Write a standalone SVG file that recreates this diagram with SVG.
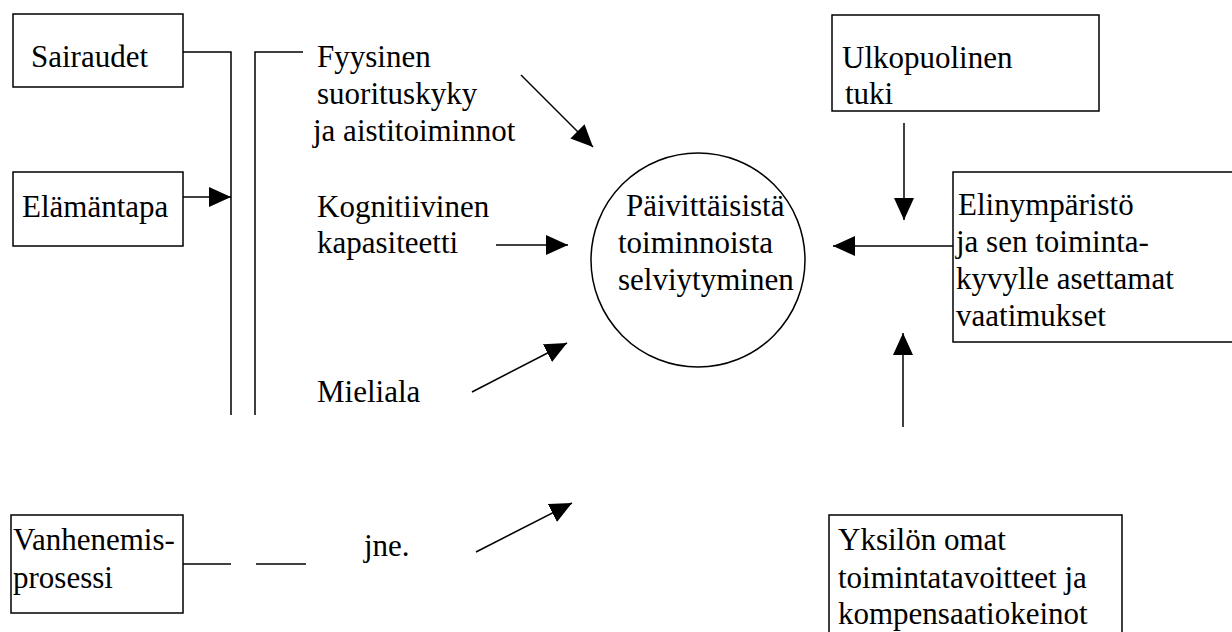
<svg xmlns="http://www.w3.org/2000/svg" width="1232" height="632" viewBox="0 0 1232 632">
<style>
text{font-family:'Liberation Serif','Times New Roman',serif;font-size:31px;fill:#000}
.box{fill:#fff;stroke:#000;stroke-width:1.5}
.ln{fill:none;stroke:#000;stroke-width:1.5}
.ar{fill:none;stroke:#000;stroke-width:1.5;marker-end:url(#ah)}
</style>
<defs>
<marker id="ah" markerUnits="userSpaceOnUse" markerWidth="22" markerHeight="20" refX="22" refY="10" orient="auto">
<path d="M0,0 L22,10 L0,20 z" fill="#000"/>
</marker>
</defs>
<g id="connectors">
<polyline class="ln" points="183,52 231,52 231,415"/>
<polyline class="ln" points="303,52 255,52 255,415"/>
<line class="ar" x1="183" y1="197" x2="231" y2="197"/>
<line class="ln" x1="183" y1="564" x2="231" y2="564"/>
<line class="ln" x1="256" y1="564" x2="306" y2="564"/>
<line class="ar" x1="521" y1="75" x2="593" y2="147"/>
<line class="ar" x1="496" y1="245" x2="568" y2="245"/>
<line class="ar" x1="472" y1="392" x2="567" y2="343"/>
<line class="ar" x1="476" y1="552" x2="572" y2="503"/>
<line class="ar" x1="904" y1="123" x2="904" y2="220"/>
<line class="ar" x1="953" y1="246" x2="833" y2="246"/>
<line class="ar" x1="903" y1="427" x2="903" y2="333"/>
</g>
<g id="sairaudet">
<rect class="box" x="13" y="14" width="170" height="73"/>
<text x="31" y="67">Sairaudet</text>
</g>
<g id="elamantapa">
<rect class="box" x="13" y="172" width="170" height="74"/>
<text x="22" y="217">Elämäntapa</text>
</g>
<g id="vanhenemis">
<rect class="box" x="11" y="515" width="172" height="98"/>
<text x="13" y="550">Vanhenemis-</text>
<text x="13" y="588">prosessi</text>
</g>
<g id="fyysinen">
<text x="317" y="67">Fyysinen</text>
<text x="317" y="104">suorituskyky</text>
<text x="313" y="141">ja aistitoiminnot</text>
</g>
<g id="kognitiivinen">
<text x="317" y="217">Kognitiivinen</text>
<text x="317" y="253">kapasiteetti</text>
</g>
<g id="mieliala">
<text x="317" y="402">Mieliala</text>
</g>
<g id="jne">
<text x="364" y="556">jne.</text>
</g>
<g id="paivittaisista">
<circle class="box" cx="698" cy="260" r="107"/>
<text x="626" y="216">Päivittäisistä</text>
<text x="618" y="253">toiminnoista</text>
<text x="618" y="290">selviytyminen</text>
</g>
<g id="ulkopuolinen">
<rect class="box" x="832" y="15" width="267" height="96"/>
<text x="842" y="68">Ulkopuolinen</text>
<text x="845" y="104">tuki</text>
</g>
<g id="elinymparisto">
<rect class="box" x="953" y="172" width="300" height="170"/>
<text x="958" y="215">Elinympäristö</text>
<text x="956" y="252">ja sen toiminta-</text>
<text x="956" y="289">kyvylle asettamat</text>
<text x="956" y="326">vaatimukset</text>
</g>
<g id="yksilon">
<rect class="box" x="829" y="515" width="293" height="130"/>
<text x="838" y="550">Yksilön omat</text>
<text x="838" y="588">toimintatavoitteet ja</text>
<text x="838" y="624">kompensaatiokeinot</text>
</g>
</svg>
